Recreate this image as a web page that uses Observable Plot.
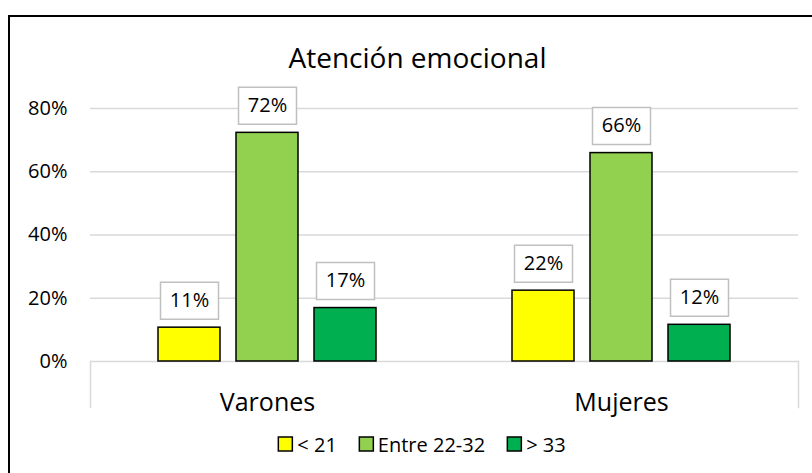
<!DOCTYPE html>
<html><head><meta charset="utf-8">
<script src="https://cdn.jsdelivr.net/npm/d3@7"></script>
<script src="https://cdn.jsdelivr.net/npm/@observablehq/plot@0.6"></script>
<style>
html,body{margin:0;padding:0;background:#fff;font-family:"Open Sans",sans-serif;color:#000}
#wrap{position:relative;width:812px;height:473px;overflow:hidden;background:#fff}
#lineL{position:absolute;left:8px;top:15px;width:2px;height:458px;background:#000}
#lineT{position:absolute;left:8px;top:15px;width:804px;height:2px;background:#000}
#title{position:absolute;left:417.5px;top:43px;transform:translateX(-50%);font-size:28px;line-height:28px;white-space:nowrap}
#chart{position:absolute;left:0;top:80px;width:812px;height:340px}
#legend{position:absolute;left:422px;top:430px;transform:translateX(-50%);height:28px;display:flex;align-items:center;white-space:nowrap}
#legend .lg-swatches{font-family:"Open Sans",sans-serif;font-size:20px;margin:0;min-height:0;color:#000;flex-wrap:nowrap}
#legend .lg-swatch{margin-right:22px}
#legend .lg-swatch:last-child{margin-right:0}
#legend .lg-swatch>svg{margin-right:5px;overflow:visible}
#legend .lg-swatch rect{stroke:#000;stroke-width:1.5}
</style></head><body>
<div id="wrap">
<div id="lineL"></div>
<div id="lineT"></div>
<div id="title">Atención emocional</div>
<div id="chart"></div>
<div id="legend"></div>
</div>
<script>
const categories = ["Varones", "Mujeres"];
const series = ["< 21", "Entre 22-32", "> 33"];
const varones = [0.107, 0.723, 0.169];
const mujeres = [0.224, 0.659, 0.116];
const yTicks = [0, 0.2, 0.4, 0.6, 0.8];
const colors = ["#FFFF00", "#92D050", "#00B050"];

const data = [];
categories.forEach((c, ci) => {
  const vals = ci === 0 ? varones : mujeres;
  series.forEach((s, si) => data.push({cat: c, serie: s, value: vals[si]}));
});
const fmt = d3.format(".0%");
const box = {draw(ctx) { ctx.rect(-29, -18.5, 58, 37); }};

const chart = Plot.plot({
  width: 812, height: 340,
  marginTop: 28, marginBottom: 59, marginLeft: 90, marginRight: 14,
  style: {fontFamily: "Open Sans, sans-serif", fontSize: "20px", color: "#000", background: "transparent"},
  fx: {domain: categories, padding: 0, label: null},
  x: {domain: series, paddingInner: 0.209, paddingOuter: 0.862, axis: null},
  y: {domain: [0, 0.8], label: null},
  color: {domain: series, range: colors},
  marks: [
    Plot.ruleY(yTicks, {stroke: "#d9d9d9", strokeWidth: 1.5}),
    Plot.frame({anchor: "left", fx: ["Varones"], stroke: "#d9d9d9", strokeWidth: 1.5, insetTop: 253, insetBottom: -46}),
    Plot.frame({anchor: "right", fx: ["Mujeres"], stroke: "#d9d9d9", strokeWidth: 1.5, insetTop: 253, insetBottom: -46}),
    Plot.axisY(yTicks, {tickFormat: fmt, tickSize: 0, tickPadding: 23, fontSize: 20, label: null}),
    Plot.axisFx({anchor: "bottom", tickSize: 0, tickPadding: 32, fontSize: 25, label: null}),
    Plot.barY(data, {fx: "cat", x: "serie", y: "value", fill: "serie", stroke: "#000", strokeWidth: 1.5}),
    Plot.dot(data, {fx: "cat", x: "serie", y: "value", symbol: box, r: 1, fill: "#fff", stroke: "#c0c0c0", strokeWidth: 1.5, dy: -27}),
    Plot.text(data, {fx: "cat", x: "serie", y: "value", text: d => fmt(d.value), dy: -27, fontSize: 20, fill: "#000"})
  ]
});
document.getElementById("chart").appendChild(chart);

const legend = Plot.legend({color: {domain: series, range: colors}, legend: "swatches", swatchSize: 14, className: "lg"});
document.getElementById("legend").appendChild(legend);
</script>
</body></html>
